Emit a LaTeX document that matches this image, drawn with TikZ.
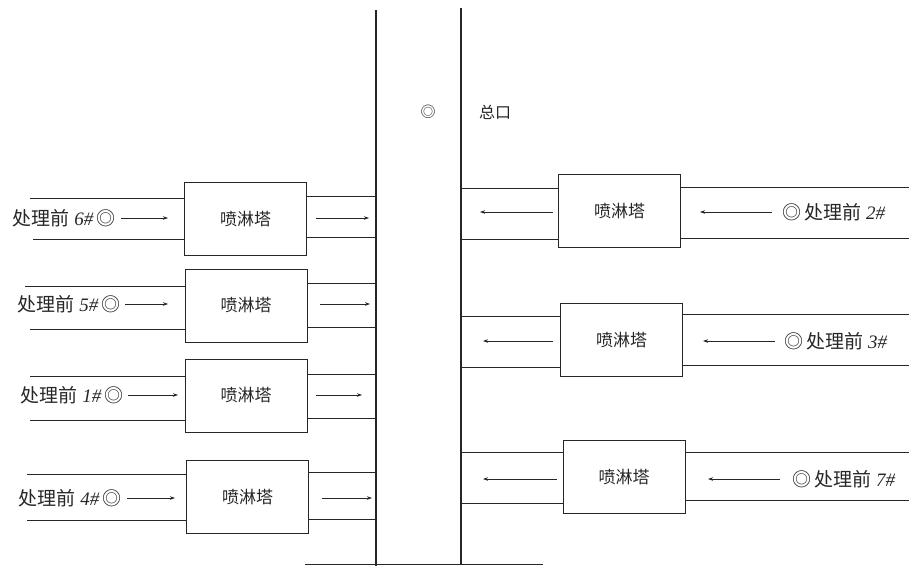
\documentclass[tikz,border=0pt]{standalone}
\usepackage{fontspec}
\setmainfont{Liberation Serif}
\newfontfamily\cjk{Noto Sans CJK SC}
\usetikzlibrary{arrows.meta}
\tikzset{
  ink/.style={draw=black!85},
  pipe/.style={ink, line width=0.8pt},
  mainpipe/.style={ink, line width=1.3pt},
  tower/.style={ink, line width=0.9pt, minimum width=122pt, minimum height=73pt, inner sep=0pt,
    font=\cjk\fontsize{17}{17}\selectfont, text=black!85},
  lbl/.style={inner sep=0pt, font=\fontsize{19}{19}\selectfont, text=black!85},
  flow/.style={ink, line width=0.8pt, -{Stealth[length=5pt,width=3.5pt]}},
}
\newcommand{\zl}[1]{{\cjk 处理前}\ \textit{#1}\,{\cjk ◎}}
\newcommand{\zr}[1]{{\cjk ◎}\,{\cjk 处理前}\ \textit{#1}}
\begin{document}
\begin{tikzpicture}[x=1pt,y=-1pt]
\useasboundingbox (0,0) rectangle (909,566);
% main collecting pipe
\draw[mainpipe] (376,10) -- (376,566);
\draw[mainpipe] (461,8) -- (461,564);
\draw[pipe] (305,564) -- (543,564);
\node[lbl, font=\cjk\fontsize{15}{15}\selectfont] (sym) at (428,112) {◎};
\node[lbl, font=\cjk\fontsize{16}{16}\selectfont] (zk) at (495,112) {总口};

% left towers
\node[tower] (L6) at (245.5,219) {喷淋塔};
\node[tower] (L5) at (246,305.5) {喷淋塔};
\node[tower] (L1) at (246,395.5) {喷淋塔};
\node[tower] (L4) at (247.5,497) {喷淋塔};

% left pipes (in)
\draw[pipe] (30,198) -- (30,198 -| L6.west);
\draw[pipe] (33,239) -- (33,239 -| L6.west);
\draw[pipe] (25,286) -- (25,286 -| L5.west);
\draw[pipe] (30,329) -- (30,329 -| L5.west);
\draw[pipe] (30,376) -- (30,376 -| L1.west);
\draw[pipe] (30,420) -- (30,420 -| L1.west);
\draw[pipe] (27,474) -- (27,474 -| L4.west);
\draw[pipe] (27,520) -- (27,520 -| L4.west);
% left pipes (out)
\draw[pipe] (L6.east |- 0,196) -- (376,196);
\draw[pipe] (L6.east |- 0,237) -- (376,237);
\draw[pipe] (L5.east |- 0,283) -- (376,283);
\draw[pipe] (L5.east |- 0,327) -- (376,327);
\draw[pipe] (L1.east |- 0,374) -- (376,374);
\draw[pipe] (L1.east |- 0,418) -- (376,418);
\draw[pipe] (L4.east |- 0,472) -- (376,472);
\draw[pipe] (L4.east |- 0,519) -- (376,519);

% left labels
\node[lbl, anchor=east] (t6) at (116,218) {\zl{6\#}};
\node[lbl, anchor=east] (t5) at (121,304) {\zl{5\#}};
\node[lbl, anchor=east] (t1) at (124,395) {\zl{1\#}};
\node[lbl, anchor=east] (t4) at (122,498) {\zl{4\#}};

% left arrows
\coordinate (a6s) at (121,218); \coordinate (a6e) at (168,218);
\coordinate (a5s) at (125,304); \coordinate (a5e) at (168,304);
\coordinate (a1s) at (128,395); \coordinate (a1e) at (178,395);
\coordinate (a4s) at (127,498); \coordinate (a4e) at (175,498);
\draw[flow] (a6s) -- (a6e);
\draw[flow] (a5s) -- (a5e);
\draw[flow] (a1s) -- (a1e);
\draw[flow] (a4s) -- (a4e);
\coordinate (b6s) at (316,218); \coordinate (b6e) at (369,218);
\coordinate (b5s) at (320,304); \coordinate (b5e) at (370,304);
\coordinate (b1s) at (316,395); \coordinate (b1e) at (362,395);
\coordinate (b4s) at (322,498); \coordinate (b4e) at (372,498);
\draw[flow] (b6s) -- (b6e);
\draw[flow] (b5s) -- (b5e);
\draw[flow] (b1s) -- (b1e);
\draw[flow] (b4s) -- (b4e);

% right towers
\node[tower] (R2) at (619.5,211) {喷淋塔};
\node[tower] (R3) at (621.5,340) {喷淋塔};
\node[tower] (R7) at (624,477) {喷淋塔};

% right pipes
\draw[pipe] (461,188) -- (461,188 -| R2.west);
\draw[pipe] (461,239) -- (461,239 -| R2.west);
\draw[pipe] (R2.east |- 0,187) -- (909,187);
\draw[pipe] (R2.east |- 0,238) -- (909,238);
\draw[pipe] (461,316) -- (461,316 -| R3.west);
\draw[pipe] (461,367) -- (461,367 -| R3.west);
\draw[pipe] (R3.east |- 0,314) -- (909,314);
\draw[pipe] (R3.east |- 0,365) -- (909,365);
\draw[pipe] (461,452) -- (461,452 -| R7.west);
\draw[pipe] (461,503) -- (461,503 -| R7.west);
\draw[pipe] (R7.east |- 0,452) -- (909,452);
\draw[pipe] (R7.east |- 0,500) -- (909,500);

% right labels
\node[lbl, anchor=west] (t2) at (782,212) {\zr{2\#}};
\node[lbl, anchor=west] (t3) at (784,341) {\zr{3\#}};
\node[lbl, anchor=west] (t7) at (792,479) {\zr{7\#}};

% right arrows
\coordinate (c2s) at (772,212); \coordinate (c2e) at (700,212);
\coordinate (c3s) at (775,341); \coordinate (c3e) at (703,341);
\coordinate (c7s) at (780,479); \coordinate (c7e) at (708,479);
\draw[flow] (c2s) -- (c2e);
\draw[flow] (c3s) -- (c3e);
\draw[flow] (c7s) -- (c7e);
\coordinate (d2s) at (553,212); \coordinate (d2e) at (480,212);
\coordinate (d3s) at (553,341); \coordinate (d3e) at (483,341);
\coordinate (d7s) at (557,479); \coordinate (d7e) at (483,479);
\draw[flow] (d2s) -- (d2e);
\draw[flow] (d3s) -- (d3e);
\draw[flow] (d7s) -- (d7e);
\end{tikzpicture}
\end{document}
